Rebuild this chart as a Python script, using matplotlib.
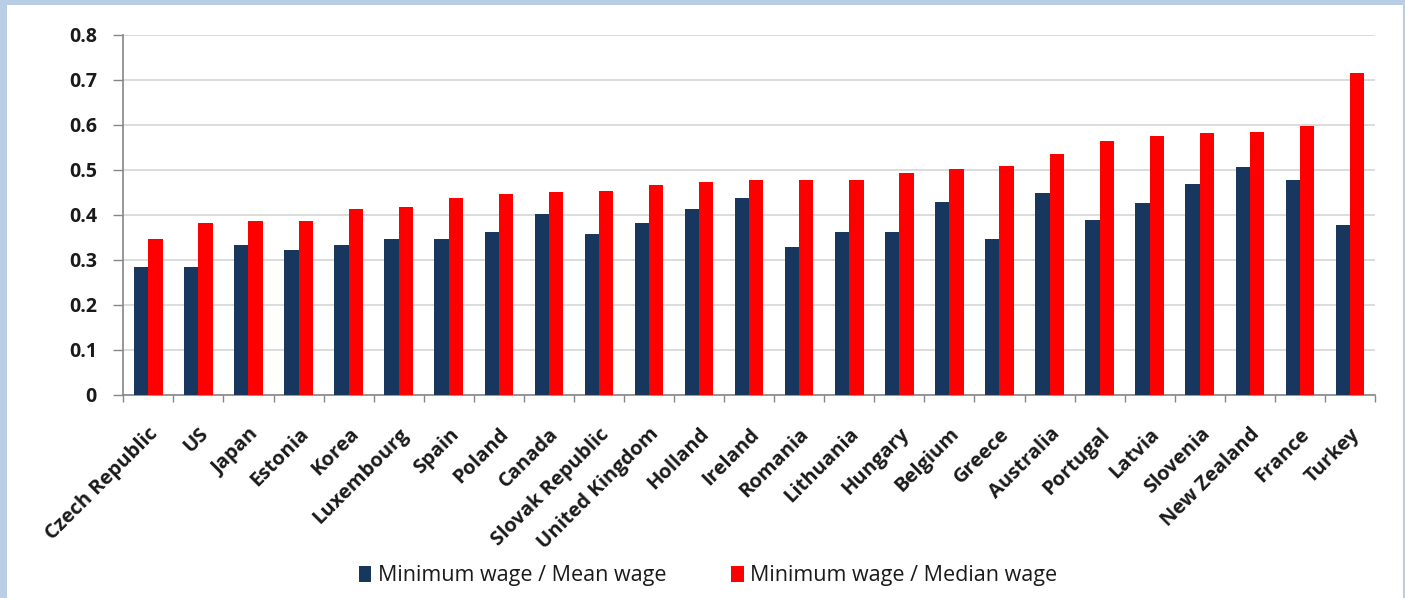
import numpy as np
import matplotlib
matplotlib.use("Agg")
import matplotlib.pyplot as plt
from matplotlib.patches import Rectangle

plt.rcParams.update({
    'font.family': ['Open Sans', 'DejaVu Sans'],
    'axes.linewidth': 1.2,
})

# Data
countries = ["Czech Republic", "US", "Japan", "Estonia", "Korea", "Luxembourg",
             "Spain", "Poland", "Canada", "Slovak Republic", "United Kingdom",
             "Holland", "Ireland", "Romania", "Lithuania", "Hungary", "Belgium",
             "Greece", "Australia", "Portugal", "Latvia", "Slovenia",
             "New Zealand", "France", "Turkey"]
mean_ratio = [0.285, 0.285, 0.333, 0.322, 0.333, 0.346, 0.346, 0.361, 0.401,
              0.357, 0.381, 0.414, 0.437, 0.329, 0.361, 0.361, 0.429, 0.346,
              0.449, 0.389, 0.426, 0.469, 0.506, 0.477, 0.377]
median_ratio = [0.346, 0.381, 0.386, 0.386, 0.414, 0.418, 0.437, 0.446, 0.450,
                0.454, 0.466, 0.474, 0.477, 0.477, 0.477, 0.494, 0.501, 0.509,
                0.534, 0.565, 0.574, 0.581, 0.585, 0.597, 0.714]
y_ticks = [0, 0.1, 0.2, 0.3, 0.4, 0.5, 0.6, 0.7, 0.8]
y_tick_labels = ["0", "0.1", "0.2", "0.3", "0.4", "0.5", "0.6", "0.7", "0.8"]
series_labels = ["Minimum wage / Mean wage", "Minimum wage / Median wage"]

NAVY = "#17375E"
RED = "#FF0000"
FRAME = "#B9CDE5"
TEXT = "#1a1a1a"

fig = plt.figure(figsize=(14.05, 5.98), dpi=100)
fig.patch.set_facecolor(FRAME)
# white panel inside the blue frame
fig.patches.append(Rectangle((7 / 1405, 0), (1403 - 7) / 1405, 593 / 598,
                             transform=fig.transFigure, facecolor="white",
                             edgecolor="none", zorder=-10))

ax = fig.add_axes([123.3 / 1405, 1 - 395 / 598, (1375 - 123.3) / 1405,
                   (395 - 34.7) / 598])
ax.set_zorder(2)
ax.set_facecolor("none")

x = np.arange(len(countries))
w = 0.285
ax.bar(x - w / 2, mean_ratio, width=w, color=NAVY, label=series_labels[0], zorder=3)
ax.bar(x + w / 2, median_ratio, width=w, color=RED, label=series_labels[1], zorder=3)

ax.set_xlim(-0.5, len(countries) - 0.5)
ax.set_ylim(0, 0.8)

# y axis
ax.set_yticks(y_ticks)
ax.set_yticklabels(y_tick_labels, fontsize=14, fontweight="bold", color=TEXT)
ax.tick_params(axis="y", direction="out", length=7, width=1, color="#868686", pad=12)
ax.yaxis.grid(True, color="#D9D9D9", linewidth=1.3, zorder=0)

# x axis: labels at centres, tick marks at category boundaries
ax.set_xticks(x)
ax.set_xticklabels(countries, rotation=45, ha="right", rotation_mode="anchor",
                   fontsize=14.5, fontweight="bold", color=TEXT)
ax.set_xticks(np.arange(-0.5, len(countries)), minor=True)
ax.tick_params(axis="x", which="major", length=0, pad=21)
ax.tick_params(axis="x", which="minor", direction="out", length=5, width=1,
               color="#868686")

for side in ["top", "right"]:
    ax.spines[side].set_visible(False)
ax.spines["left"].set_color("#868686")
ax.spines["bottom"].set_color("#868686")

leg = fig.legend(loc="center", bbox_to_anchor=(708 / 1405, 1 - 576 / 598), ncol=2,
                 frameon=False, fontsize=15.5, handlelength=0.6, handleheight=0.8,
                 handletextpad=0.3, columnspacing=3.0, labelcolor=TEXT)
leg.set_zorder(5)

fig.savefig("out.png", dpi=100, facecolor=fig.get_facecolor())
